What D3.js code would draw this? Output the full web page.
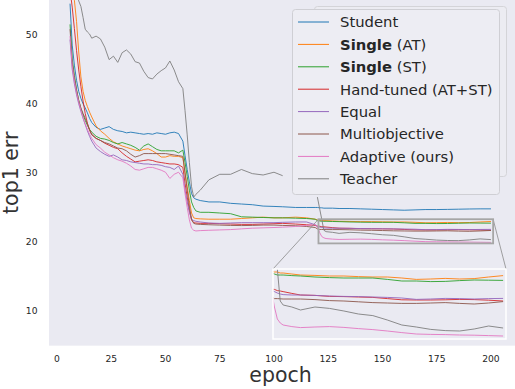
<!DOCTYPE html>
<html>
<head>
<meta charset="utf-8">
<script src="https://cdn.jsdelivr.net/npm/d3@7/dist/d3.min.js"></script>
<style>
  body { margin: 0; background: #fff; }
  svg { display: block; font-family: "DejaVu Sans", sans-serif; }
</style>
</head>
<body>
<div id="chart"></div>
<script>
// Training curves: top1 error per epoch

const epochs = [6, 7, 8, 9, 10, 11, 12, 13, 14, 15, 16,
  18, 20, 22, 24, 26, 28, 30, 32, 34, 36, 38, 40, 42, 44, 46, 48, 50, 52, 54, 56, 58,
  59, 60, 61, 62, 63, 64,
  66, 70, 75, 80, 85, 90, 95, 100, 104,
  110, 115, 119,
  120, 121, 122, 123, 124,
  127, 130,
  135, 140, 145, 150, 155, 160, 165, 170, 175, 180, 185, 190, 195, 200];

const student = [54.5, 48.5, 45.6, 43.4, 41.8, 40.8, 40.0, 39.4, 38.7, 37.9, 37.3,
  36.6, 36.3, 36.5, 36.7, 36.3, 36.1, 36.0, 35.8, 35.9, 35.8, 35.7, 35.6, 35.7, 35.6, 35.8, 35.7, 35.6, 35.8, 35.9, 35.7, 34.6,
  32.5, 30.5, 28.7, 27.0, 26.4, 26.2,
  26.0, 25.8, 25.8, 25.6, 25.5, 25.4, 25.2, 25.15, 25.1,
  25.0, 25.0, 25.0,
  25.0, 24.95, 24.95, 24.9, 24.9,
  24.9, 24.85,
  24.85, 24.8, 24.75, 24.7, 24.65, 24.6, 24.65, 24.7, 24.7, 24.72, 24.75, 24.78, 24.8, 24.8];

const singleAT = [60.5, 57.5, 55.0, 51.9, 47.5, 43.9, 41.8, 40.5, 39.6, 38.8, 38.1,
  36.8, 36.1, 35.6, 35.0, 34.5, 34.2, 33.9, 33.7, 33.5, 33.3, 33.2, 33.4, 33.5, 33.2, 32.8, 32.3, 32.3, 32.5, 32.4, 32.4, 32.2,
  30.0, 28.0, 26.0, 24.2, 23.5, 23.4,
  23.35, 23.3, 23.3, 23.3, 23.4, 23.5, 23.6, 23.5, 23.5,
  23.6, 23.5, 23.3,
  23.2, 23.15, 23.15, 23.1, 23.1,
  23.05, 23.0,
  22.98, 22.95, 22.95, 22.92, 22.9, 22.9, 22.85, 22.78, 22.8, 22.83, 22.8, 22.82, 22.9, 22.97];

const singleST = [51.5, 46.5, 44.1, 42.0, 40.5, 39.3, 38.4, 37.6, 36.9, 36.3, 35.9,
  35.3, 35.0, 34.9, 34.7, 34.4, 34.2, 34.4, 34.2, 34.0, 33.7, 33.3, 33.9, 34.2, 33.8, 33.4, 33.2, 33.2, 33.2, 33.2, 32.9, 33.3,
  31.5, 29.5, 27.5, 25.8, 25.0, 24.5,
  24.3, 24.3, 24.2, 24.1, 23.65, 23.6, 23.55, 23.5, 23.5,
  23.45, 23.4, 23.3,
  23.1, 23.05, 23.0, 23.0, 23.0,
  22.97, 22.95,
  22.9, 22.87, 22.85, 22.85, 22.85, 22.78, 22.7, 22.7, 22.67, 22.68, 22.72, 22.75, 22.74, 22.73];

const handTuned = [56.5, 54.0, 50.9, 47.7, 44.9, 42.5, 40.4, 38.6, 37.2, 36.2, 35.6,
  35.0, 34.7, 34.3, 34.0, 33.7, 33.5, 32.9, 32.4, 32.0, 31.6, 31.7, 31.8, 31.9, 31.8, 31.6, 31.5, 31.4, 31.3, 31.3, 31.2, 30.8,
  28.5, 26.5, 24.6, 23.2, 22.8, 22.75,
  22.7, 22.7, 22.65, 22.6, 22.55, 22.55, 22.6, 22.65, 22.7,
  22.6, 22.5, 22.4,
  22.3, 22.28, 22.22, 22.2, 22.17,
  22.08, 22.0,
  21.98, 21.93, 21.92, 21.9, 21.88, 21.82, 21.76, 21.75, 21.75, 21.76, 21.78, 21.77, 21.74, 21.7];

const equal = [49.3, 45.0, 42.9, 41.3, 40.0, 38.9, 37.9, 37.0, 36.1, 35.3, 34.6,
  33.6, 33.1, 32.7, 32.4, 32.6, 32.3, 31.9, 31.8, 31.6, 31.5, 31.4, 31.3, 31.3, 31.2, 31.2, 31.1, 30.9, 30.8, 30.5, 31.0, 29.8,
  27.5, 25.8, 24.3, 23.3, 23.1, 23.0,
  22.9, 22.75, 22.7, 22.75, 22.8, 22.8, 22.8, 22.8, 22.85,
  22.9, 22.9, 22.5,
  22.25, 22.17, 22.1, 22.05, 22.02,
  22.0, 22.0,
  21.98, 21.95, 21.93, 21.92, 21.9, 21.88, 21.85, 21.78, 21.8, 21.83, 21.82, 21.8, 21.82, 21.83];

const multiobjective = [50.8, 46.0, 43.8, 42.0, 40.5, 39.4, 38.6, 37.9, 37.1, 36.2, 35.5,
  35.0, 34.7, 34.4, 34.2, 33.9, 33.6, 33.5, 33.2, 32.7, 32.3, 32.5, 32.8, 32.8, 32.8, 32.8, 32.8, 32.8, 32.7, 32.6, 32.5, 32.4,
  30.0, 27.5, 25.2, 23.3, 22.7, 22.6,
  22.55, 22.5, 22.45, 22.4, 22.38, 22.4, 22.45, 22.45, 22.4,
  22.35, 22.25, 22.1,
  21.9, 21.82, 21.82, 21.81, 21.8,
  21.8, 21.8,
  21.77, 21.72, 21.7, 21.66, 21.62, 21.6, 21.58, 21.58, 21.6, 21.62, 21.58, 21.55, 21.6, 21.67];

const adaptive = [49.8, 45.5, 43.3, 41.6, 40.3, 39.1, 38.0, 37.1, 36.3, 35.6, 35.0,
  34.1, 33.6, 33.0, 32.6, 32.2, 31.9, 31.7, 31.4, 31.0, 30.5, 30.4, 30.6, 30.8, 30.8, 30.6, 30.4, 30.1, 29.2, 29.8, 30.1, 29.3,
  27.0, 25.0, 23.2, 22.0, 21.7, 21.6,
  21.65, 21.7, 21.75, 21.8, 21.9, 22.0, 22.05, 22.1, 22.15,
  22.25, 22.4, 22.5,
  22.2, 21.4, 20.8, 20.6, 20.5,
  20.42, 20.37,
  20.4, 20.42, 20.38, 20.32, 20.27, 20.2, 20.12, 20.05, 20.03, 20.02, 20.0, 19.99, 19.97, 19.95];

const teacher = [61.0, 58.8, 57.1, 55.9, 54.9, 54.1, 52.5, 50.8, 50.4, 50.1, 49.5,
  49.8, 49.4, 48.2, 46.4, 46.9, 46.0, 47.4, 47.8, 47.2, 46.1, 45.9, 44.7, 43.8, 43.6, 44.3, 44.8, 45.2, 46.2, 44.9, 43.2, 42.2,
  39.0, 35.5, 31.5, 28.0, 26.5, 26.9,
  27.5, 29.0, 29.8, 29.8, 30.5, 29.9, 29.7, 30.1, 29.6,
  null, null, null,
  26.5, 24.9, 23.3, 21.7, 21.5,
  21.4, 21.25,
  21.4, 21.33, 21.2, 21.05, 20.97, 20.75, 20.5, 20.4, 20.28, 20.22, 20.2, 20.3, 20.45, 20.35];

const seriesValues = [student, singleAT, singleST, handTuned, equal, multiobjective, adaptive, teacher];
const seriesColors = ['#1f77b4', '#ff7f0e', '#2ca02c', '#d62728', '#9467bd', '#8c564b', '#e377c2', '#7f7f7f'];
// legend labels: [bold part, normal part]
const legendLabels = [
  ['', 'Student'],
  ['Single', ' (AT)'],
  ['Single', ' (ST)'],
  ['', 'Hand-tuned (AT+ST)'],
  ['', 'Equal'],
  ['', 'Multiobjective'],
  ['', 'Adaptive (ours)'],
  ['', 'Teacher']
];

const xTicks = [0, 25, 50, 75, 100, 125, 150, 175, 200];
const yTicks = [10, 20, 30, 40, 50];
const zoomX = [120.5, 201];
const zoomY = [19.8, 23.3];

const W = 515, H = 389;
const plot = { left: 49, right: 512, top: 0.2, bottom: 345.65 };
const inset = { left: 273, right: 506, top: 269, bottom: 339 };

function buildSeries() {
  return seriesValues.map((vals, i) => ({
    color: seriesColors[i],
    points: epochs.map((e, j) => ({ e: e, v: vals[j] }))
  }));
}

function drawChart() {
  const series = buildSeries();

  const svg = d3.select('#chart').append('svg')
    .attr('width', W).attr('height', H);

  const x = d3.scaleLinear().domain([-3.7, 209.7]).range([plot.left, plot.right]);
  const y = d3.scaleLinear().domain([5, 55]).range([plot.bottom, plot.top]);

  // background
  svg.append('rect')
    .attr('x', plot.left).attr('y', 0)
    .attr('width', plot.right - plot.left + 3).attr('height', plot.bottom)
    .attr('fill', '#eaeaf2');

  const defs = svg.append('defs');
  defs.append('clipPath').attr('id', 'clipMain')
    .append('rect').attr('x', plot.left).attr('y', 0)
    .attr('width', plot.right - plot.left + 3).attr('height', plot.bottom);
  defs.append('clipPath').attr('id', 'clipInset')
    .append('rect').attr('x', inset.left).attr('y', inset.top)
    .attr('width', inset.right - inset.left).attr('height', inset.bottom - inset.top);

  // main lines
  const line = d3.line()
    .defined(d => d.v != null)
    .x(d => x(d.e)).y(d => y(d.v));

  svg.append('g').attr('clip-path', 'url(#clipMain)')
    .selectAll('path').data(series).enter()
    .append('path')
    .attr('d', d => line(d.points))
    .attr('fill', 'none')
    .attr('stroke', d => d.color)
    .attr('stroke-width', 0.9);

  // ticks
  const tickColor = '#262626';
  svg.append('g').selectAll('text').data(xTicks).enter()
    .append('text')
    .attr('x', d => x(d)).attr('y', 361.5)
    .attr('text-anchor', 'middle')
    .attr('font-size', 9.2).attr('fill', tickColor)
    .text(d => d);

  svg.append('g').selectAll('text').data(yTicks).enter()
    .append('text')
    .attr('x', 37.5).attr('y', d => y(d) + 3.3)
    .attr('text-anchor', 'end')
    .attr('font-size', 9.2).attr('fill', tickColor)
    .text(d => d);

  // axis labels
  svg.append('text')
    .attr('x', (plot.left + plot.right) / 2).attr('y', 382)
    .attr('text-anchor', 'middle')
    .attr('font-size', 20.5).attr('fill', '#333')
    .text('epoch');

  svg.append('text')
    .attr('transform', `translate(18,${plot.bottom / 2}) rotate(-90)`)
    .attr('text-anchor', 'middle')
    .attr('font-size', 20.5).attr('fill', '#333')
    .text('top1 err');

  // zoom region marker and connectors
  const rx0 = x(zoomX[0]), rx1 = x(zoomX[1]);
  const ry0 = y(zoomY[1]), ry1 = y(zoomY[0]);

  svg.append('line')
    .attr('x1', rx0).attr('y1', ry0).attr('x2', inset.left).attr('y2', inset.top)
    .attr('stroke', '#8a8a8a').attr('stroke-width', 0.8);
  svg.append('line')
    .attr('x1', rx1).attr('y1', ry0).attr('x2', inset.right).attr('y2', inset.top)
    .attr('stroke', '#8a8a8a').attr('stroke-width', 0.8);

  svg.append('rect')
    .attr('x', rx0).attr('y', ry0)
    .attr('width', rx1 - rx0).attr('height', ry1 - ry0)
    .attr('fill', 'none')
    .attr('stroke', '#a6a6a6').attr('stroke-width', 1.8);

  // inset
  const xi = d3.scaleLinear().domain(zoomX).range([inset.left, inset.right]);
  const yi = d3.scaleLinear().domain(zoomY).range([inset.bottom, inset.top]);
  const lineInset = d3.line()
    .defined(d => d.v != null)
    .x(d => xi(d.e)).y(d => yi(d.v));

  svg.append('rect')
    .attr('x', inset.left).attr('y', inset.top)
    .attr('width', inset.right - inset.left).attr('height', inset.bottom - inset.top)
    .attr('fill', '#eaeaf2');

  svg.append('g').attr('clip-path', 'url(#clipInset)')
    .selectAll('path').data(series).enter()
    .append('path')
    .attr('d', d => lineInset(d.points.filter(p => p.e >= 119)))
    .attr('fill', 'none')
    .attr('stroke', d => d.color)
    .attr('stroke-width', 0.9);

  svg.append('rect')
    .attr('x', inset.left).attr('y', inset.top)
    .attr('width', inset.right - inset.left).attr('height', inset.bottom - inset.top)
    .attr('fill', 'none')
    .attr('stroke', '#fff').attr('stroke-width', 1.5);

  drawLegend(svg);
}

function drawLegend(svg) {
  // faint box behind the legend
  svg.append('rect')
    .attr('x', 314.5).attr('y', 6.5).attr('width', 192).attr('height', 170).attr('rx', 3)
    .attr('fill', '#ececf2').attr('stroke', '#d4d4d8').attr('stroke-width', 1);

  const lg = svg.append('g');
  lg.append('rect')
    .attr('x', 292.5).attr('y', 9.5).attr('width', 207).attr('height', 185).attr('rx', 3)
    .attr('fill', '#ededf3').attr('stroke', '#cfcfd4').attr('stroke-width', 1);

  const rows = lg.selectAll('g.row').data(legendLabels).enter()
    .append('g').attr('class', 'row')
    .attr('transform', (d, i) => `translate(0,${22 + i * 22.4})`);

  rows.append('line')
    .attr('x1', 298).attr('x2', 329).attr('y1', 0).attr('y2', 0)
    .attr('stroke', (d, i) => seriesColors[i]).attr('stroke-width', 1);

  const txt = rows.append('text')
    .attr('x', 340).attr('y', 5.3)
    .attr('font-size', 14.8).attr('fill', '#262626');
  txt.append('tspan').attr('font-weight', 'bold').text(d => d[0]);
  txt.append('tspan').text(d => d[1]);
}

drawChart();
</script>
</body>
</html>
